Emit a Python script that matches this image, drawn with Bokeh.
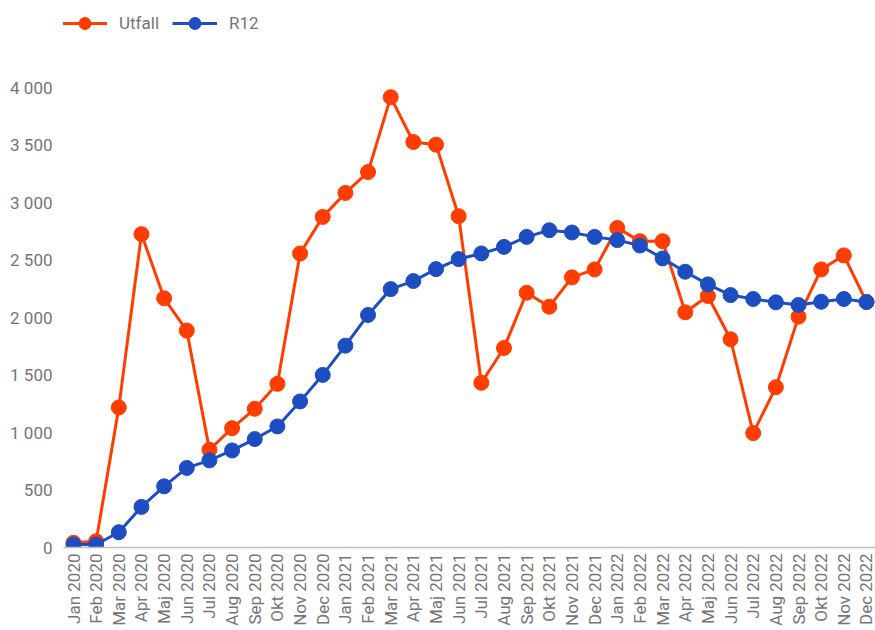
import math
from bokeh.plotting import figure
from bokeh.models import Range1d, FixedTicker, Legend, LegendItem
from bokeh.embed import file_html
from bokeh.resources import INLINE

months = ["Jan 2020", "Feb 2020", "Mar 2020", "Apr 2020", "Maj 2020", "Jun 2020",
          "Jul 2020", "Aug 2020", "Sep 2020", "Okt 2020", "Nov 2020", "Dec 2020",
          "Jan 2021", "Feb 2021", "Mar 2021", "Apr 2021", "Maj 2021", "Jun 2021",
          "Jul 2021", "Aug 2021", "Sep 2021", "Okt 2021", "Nov 2021", "Dec 2021",
          "Jan 2022", "Feb 2022", "Mar 2022", "Apr 2022", "Maj 2022", "Jun 2022",
          "Jul 2022", "Aug 2022", "Sep 2022", "Okt 2022", "Nov 2022", "Dec 2022"]

utfall = [41, 55, 1218, 2725, 2167, 1886, 850, 1038, 1206, 1423, 2557, 2875,
          3083, 3265, 3916, 3526, 3503, 2881, 1432, 1735, 2215, 2094, 2349, 2418,
          2779, 2664, 2664, 2045, 2187, 1811, 995, 1394, 2007, 2418, 2540, 2135]

r12 = [26, 26, 133, 353, 532, 692, 758, 844, 943, 1053, 1270, 1501,
       1755, 2022, 2247, 2317, 2421, 2508, 2557, 2614, 2701, 2759, 2739, 2701,
       2673, 2626, 2514, 2398, 2288, 2195, 2161, 2132, 2109, 2137, 2161, 2135]

y_ticks = [0, 500, 1000, 1500, 2000, 2500, 3000, 3500, 4000]
y_tick_labels = ["0", "500", "1 000", "1 500", "2 000", "2 500", "3 000", "3 500", "4 000"]

ORANGE = "#FF3D00"
BLUE = "#1D4EC1"
TEXT = "#757575"
FONT = "Roboto"

W, H = 875, 629
BL, BB = 63, 82
frame_h = H - BB
frame_w = W - BL
y_end = 4000 * frame_h / (frame_h - 87)
px = (866 - 73) / (len(months) - 1)
x_start = -(73 - BL) / px
x_end = x_start + frame_w / px

x = list(range(len(months)))

p = figure(width=W, height=H, output_backend="svg", toolbar_location=None,
           x_range=Range1d(x_start, x_end), y_range=Range1d(0, y_end),
           min_border_left=BL, min_border_right=0, min_border_top=0,
           min_border_bottom=BB)
p.outline_line_color = None
p.grid.visible = False

l1 = p.line(x, utfall, line_color=ORANGE, line_width=3)
s1 = p.scatter(x, utfall, size=15, fill_color=ORANGE, line_color=ORANGE)
l2 = p.line(x, r12, line_color=BLUE, line_width=3)
s2 = p.scatter(x, r12, size=15, fill_color=BLUE, line_color=BLUE)

p.xaxis.ticker = FixedTicker(ticks=x)
p.xaxis.major_label_overrides = {i: m for i, m in enumerate(months)}
p.xaxis.major_label_orientation = math.pi / 2
p.xaxis.axis_line_color = "#BDBDBD"
p.xaxis.axis_line_width = 1.5
p.xaxis.major_tick_line_color = None
p.xaxis.minor_tick_line_color = None
p.xaxis.major_label_standoff = 0

p.yaxis.ticker = FixedTicker(ticks=y_ticks)
p.yaxis.major_label_overrides = {v: l for v, l in zip(y_ticks, y_tick_labels)}
p.yaxis.axis_line_color = None
p.yaxis.major_tick_line_color = None
p.yaxis.minor_tick_line_color = None
p.yaxis.major_label_standoff = 5

for ax in (p.xaxis, p.yaxis):
    ax.major_label_text_font = FONT
    ax.major_label_text_font_size = "17px"
    ax.major_label_text_color = TEXT

legend = Legend(items=[LegendItem(label="Utfall", renderers=[l1, s1]),
                       LegendItem(label="R12", renderers=[l2, s2])],
                orientation="horizontal", location=(-1, frame_h - 38),
                glyph_width=45, glyph_height=30, label_height=30,
                label_standoff=12, spacing=13, padding=0, margin=0,
                border_line_alpha=0, background_fill_alpha=0,
                label_text_font=FONT, label_text_font_size="17px",
                label_text_color=TEXT)
p.add_layout(legend)

open("out.html", "w").write(file_html(p, INLINE))
